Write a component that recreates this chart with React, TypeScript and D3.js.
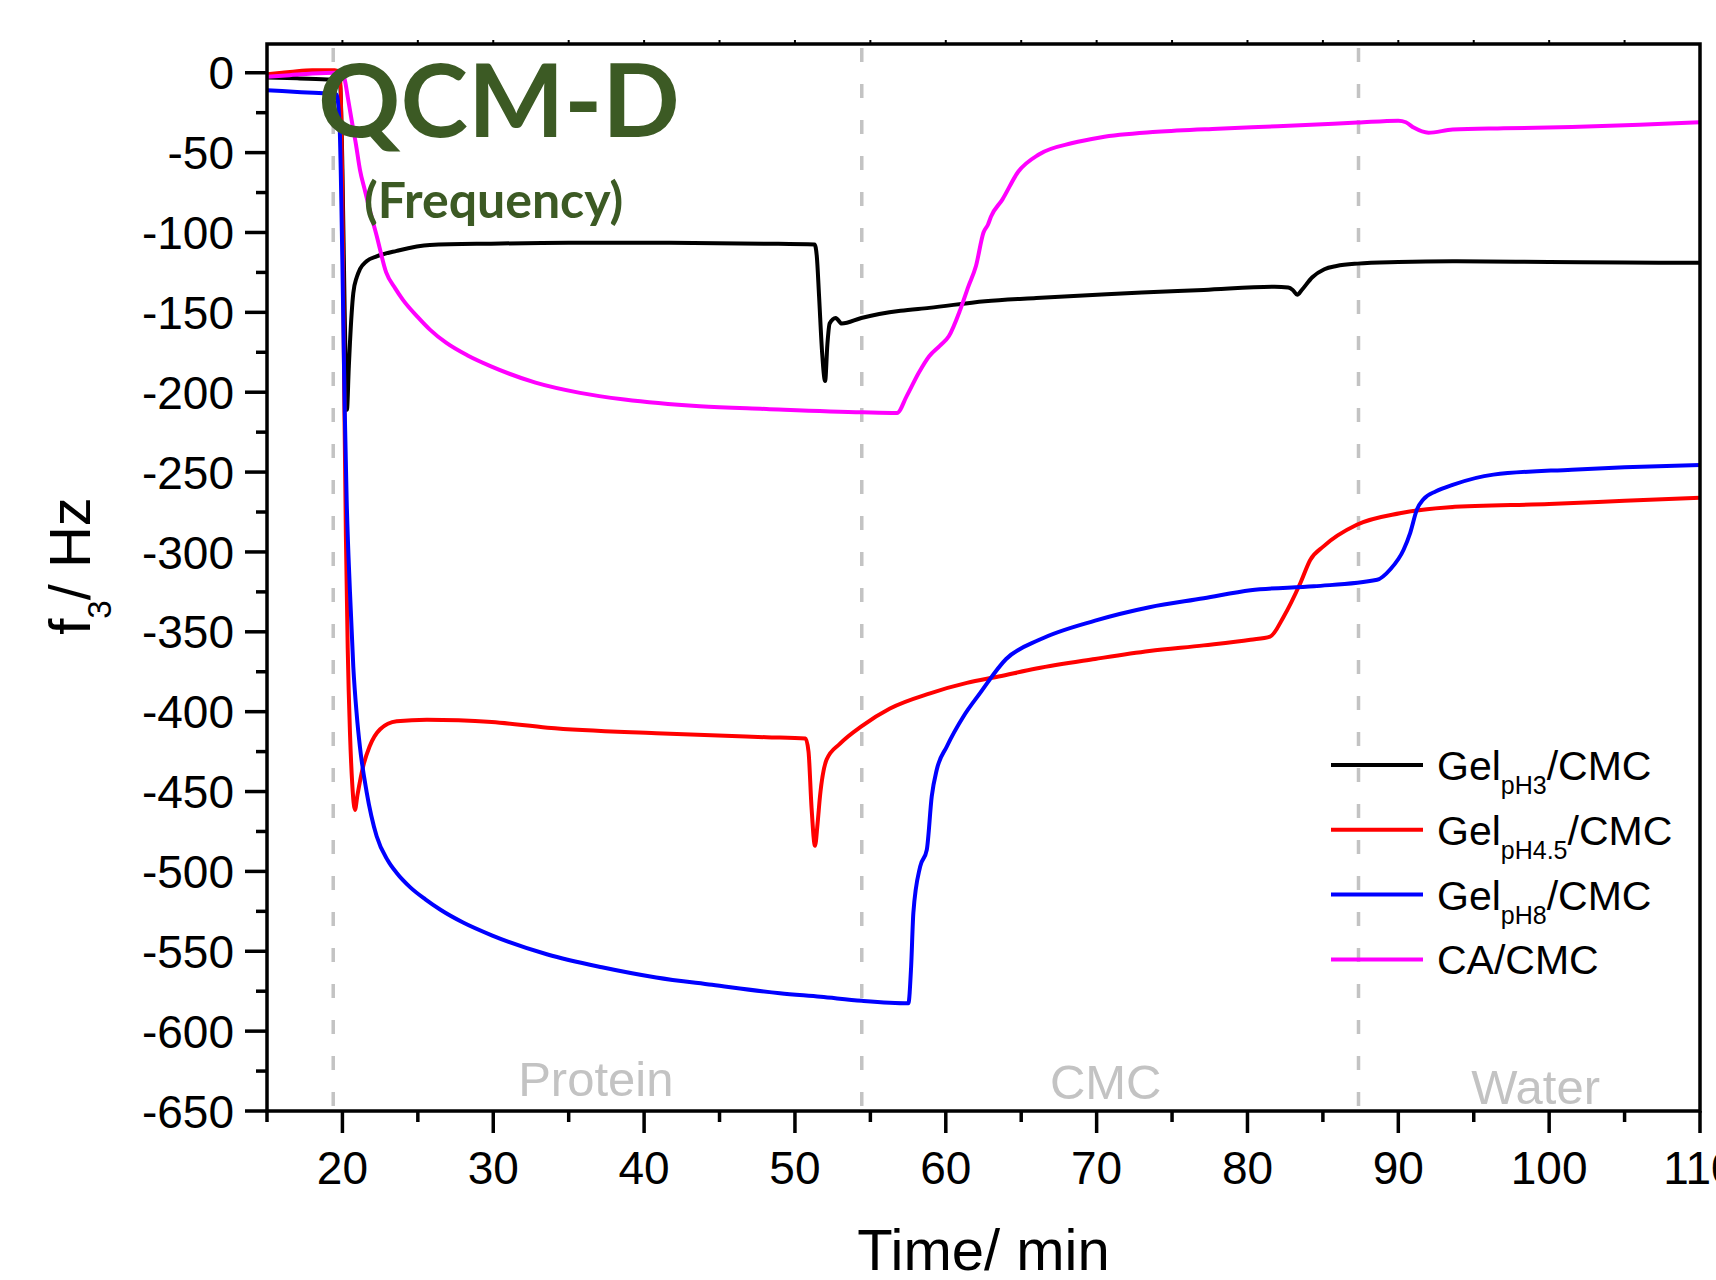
import React from "react";
import * as d3 from "d3";

type Pt = [number, number];

const gelPH3: Pt[] = [
  [15, -3], [17, -3.5], [19, -4.2], [19.6, -4.5], [19.85, -8], [20.0, -60], [20.15, -150], [20.3, -211],
  [20.42, -185], [20.5, -169], [20.72, -138], [20.95, -128], [21.16, -123], [21.6, -118], [22.27, -115],
  [23.6, -111.5], [25.8, -107.8], [29.85, -107], [35, -106.5], [41.7, -106.5], [48, -107], [51.3, -107.5],
  [51.45, -115], [51.6, -140], [51.8, -175], [52.0, -193], [52.15, -170], [52.3, -157], [52.7, -153.5],
  [53.1, -157], [54.4, -153.5], [57, -149], [58.9, -147.2], [62.6, -143], [66, -141], [69.1, -139.5],
  [73, -137.5], [77.1, -136], [81.8, -134], [82.7, -134.5], [83.0, -136], [83.3, -139], [83.6, -136],
  [84.3, -128], [85.1, -123], [85.9, -121], [87.3, -119.5], [90, -118.5], [93.6, -118], [100, -118.5],
  [105, -118.8], [110, -119],
];

const gelPH45: Pt[] = [
  [15, -1], [16, 0], [17, 1], [18, 1.5], [19.5, 1.5], [19.85, 0], [20.0, -80], [20.12, -200], [20.23, -290],
  [20.35, -360], [20.5, -413], [20.65, -445], [20.83, -461.5], [21.0, -452], [21.38, -434], [21.8, -421.8],
  [22.5, -411], [23.6, -406], [25.6, -405], [29.9, -406.5], [33.6, -410], [40.8, -413.5], [48.1, -416],
  [50.7, -416.8], [50.9, -425], [51.1, -460], [51.33, -484], [51.5, -470], [51.66, -453], [52.1, -430],
  [52.99, -420], [54.43, -409], [56.3, -398], [58.96, -388.5], [61.4, -382], [63.5, -378], [66, -373],
  [69.9, -367], [73.5, -362], [77.1, -358.5], [80.2, -355], [81.5, -353], [82.4, -340.5], [83.5, -319.6],
  [84.16, -305], [85.04, -296.5], [87.25, -283], [90.1, -275.8], [93.4, -272], [100, -270], [105, -268],
  [110, -266],
];

const gelPH8: Pt[] = [
  [15, -11], [17, -12], [19, -13], [19.6, -13.5], [19.8, -30], [20.0, -120], [20.15, -210], [20.28, -267],
  [20.5, -325], [20.72, -371.7], [20.95, -402], [21.16, -422], [21.6, -450], [22.27, -478], [23.0, -493],
  [23.6, -501], [24.5, -510], [25.5, -517.5], [26.5, -524], [28, -532], [29.9, -540], [33.6, -552],
  [37.2, -560], [40.8, -566.4], [44.5, -571], [49.0, -576.3], [51.7, -578.5], [54.43, -581], [57.52, -582.5],
  [57.7, -560], [57.85, -526], [58.3, -497], [58.74, -486.5], [59.07, -453], [59.4, -436.4], [60.07, -421.8],
  [61.17, -403], [62.27, -388.4], [64.0, -367], [66.2, -355], [69.9, -343], [73.5, -334.6], [77.1, -329],
  [80.2, -324], [84.4, -321.5], [88.6, -317.4], [89.46, -311], [90.35, -298.6], [90.79, -288],
  [91.23, -273.5], [91.67, -267], [92.5, -262], [93.6, -258], [96.3, -251.6], [101.5, -248.5], [105, -247],
  [110, -245.6],
];

const caCMC: Pt[] = [
  [15, -2.5], [16.5, -1.5], [18, -0.5], [19.5, 0], [20.05, -1], [20.17, -5], [20.35, -15], [20.6, -29],
  [20.9, -45], [21.16, -60.6], [21.5, -74], [21.8, -85.6], [22.27, -102], [22.9, -125], [23.5, -135],
  [24.0, -142], [25.0, -153], [25.8, -160.8], [26.87, -169], [28.3, -177], [29.85, -183.8], [32.8, -194],
  [35.75, -200.4], [38.7, -204.6], [43.7, -208.8], [48.1, -210.5], [54.5, -212.6], [56.77, -213],
  [57.4, -202.6], [58.2, -188], [58.9, -177.5], [59.6, -171], [60.2, -165], [60.96, -148.3], [61.5, -133.7],
  [62.0, -121], [62.5, -100], [62.8, -95], [63.0, -90], [63.75, -79.4], [64.8, -62], [66.2, -51],
  [68.4, -44], [70.24, -40.5], [74, -37], [78.04, -35], [82, -33.5], [87.3, -31.2], [90.0, -30],
  [90.5, -31], [91.05, -34.5], [92.0, -37.5], [93.6, -35.6], [97, -34.8], [101.5, -34], [106, -32.5],
  [110, -31],
];

const seriesNames = ["GelpH3", "GelpH4.5", "GelpH8", "CA"];
const seriesData = [gelPH3, gelPH45, gelPH8, caCMC];
const seriesColors = ["#000000", "#ff0000", "#0000ff", "#ff00ff"];
const legendMain = ["Gel", "Gel", "Gel", "CA/CMC"];
const legendSub = ["pH3", "pH4.5", "pH8", ""];
const legendTail = ["/CMC", "/CMC", "/CMC", ""];

const xMajorTicks = [20, 30, 40, 50, 60, 70, 80, 90, 100, 110];
const xMinorTicks = [15, 25, 35, 45, 55, 65, 75, 85, 95, 105];
const yMajorTicks = d3.range(0, -651, -50);
const yMinorTicks = d3.range(-25, -650, -50);
const phaseLines = [19.39, 54.43, 87.36];
const phaseLabels = [
  { text: "Protein", t: 36.8, dy: 0 },
  { text: "CMC", t: 70.6, dy: 3 },
  { text: "Water", t: 99.1, dy: 8 },
];

const W = 1716;
const H = 1280;
const L = 267, R = 1700, T = 44, B = 1111;
const FONT = "'Liberation Sans', Arial, sans-serif";

export default function App() {
  const x = d3.scaleLinear().domain([15, 110]).range([L, R]);
  const y = d3.scaleLinear().domain([-650, 18]).range([B, T]);
  const line = d3
    .line<Pt>()
    .x((d) => x(d[0]))
    .y((d) => y(d[1]))
    .curve(d3.curveMonotoneX);

  const topTicks = d3.range(20, 110, 5);

  return (
    <svg
      width={W}
      height={H}
      viewBox={`0 0 ${W} ${H}`}
      style={{ position: "absolute", left: 0, top: 0, background: "#fff" }}
    >
      <defs>
        <clipPath id="plotclip">
          <rect x={L} y={T} width={R - L} height={B - T} />
        </clipPath>
      </defs>
      <rect x={0} y={0} width={W} height={H} fill="#fff" />

      {phaseLines.map((t, i) => (
        <line
          key={"pl" + i}
          x1={x(t)}
          x2={x(t)}
          y1={T + 4}
          y2={B - 4}
          stroke="#c3c3c3"
          strokeWidth={3.5}
          strokeDasharray="14 22"
        />
      ))}
      {phaseLabels.map((p, i) => (
        <text
          key={"lab" + i}
          x={x(p.t)}
          y={1096 + p.dy}
          fill="#c3c3c3"
          fontFamily={FONT}
          fontSize={49}
          textAnchor="middle"
        >
          {p.text}
        </text>
      ))}

      <g clipPath="url(#plotclip)">
        {seriesData.map((d, i) => (
          <path
            key={seriesNames[i]}
            d={line(d) || ""}
            fill="none"
            stroke={seriesColors[i]}
            strokeWidth={4}
            strokeLinejoin="round"
          />
        ))}
      </g>

      <rect x={L} y={T} width={R - L} height={B - T} fill="none" stroke="#000" strokeWidth={3.5} />

      {topTicks.map((t) => (
        <line key={"tt" + t} x1={x(t)} x2={x(t)} y1={T} y2={T - 4} stroke="#000" strokeWidth={2} />
      ))}

      {yMajorTicks.map((v) => (
        <g key={"ym" + v}>
          <line x1={L - 22} x2={L} y1={y(v)} y2={y(v)} stroke="#000" strokeWidth={3.5} />
          <text
            x={L - 33}
            y={y(v)}
            dy="0.36em"
            textAnchor="end"
            fontFamily={FONT}
            fontSize={46}
            fill="#000"
          >
            {v}
          </text>
        </g>
      ))}
      {yMinorTicks.map((v) => (
        <line key={"yn" + v} x1={L - 11} x2={L} y1={y(v)} y2={y(v)} stroke="#000" strokeWidth={3.5} />
      ))}

      {xMajorTicks.map((v) => (
        <g key={"xm" + v}>
          <line x1={x(v)} x2={x(v)} y1={B} y2={B + 22} stroke="#000" strokeWidth={3.5} />
          <text x={x(v)} y={1184} textAnchor="middle" fontFamily={FONT} fontSize={46} fill="#000">
            {v}
          </text>
        </g>
      ))}
      {xMinorTicks.map((v) => (
        <line key={"xn" + v} x1={x(v)} x2={x(v)} y1={B} y2={B + 11} stroke="#000" strokeWidth={3.5} />
      ))}

      <text x={(L + R) / 2} y={1270} textAnchor="middle" fontFamily={FONT} fontSize={58} fill="#000">
        Time/ min
      </text>
      <text
        transform={`translate(90, 566) rotate(-90)`}
        textAnchor="middle"
        fontFamily={FONT}
        fontSize={58}
        fill="#000"
      >
        <tspan>f</tspan>
        <tspan fontSize={33} dy={21}>3</tspan>
        <tspan dy={-21}>/ Hz</tspan>
      </text>

      <text x={318} y={137} fontFamily="Lato, 'Noto Sans', sans-serif" fontWeight={700} fontSize={102} fill="#3c5a24">
        QCM-D
      </text>
      <text x={364} y={218} fontFamily="Lato, 'Noto Sans', sans-serif" fontWeight={700} fontSize={50} fill="#3c5a24">
        (Frequency)
      </text>

      {seriesNames.map((n, i) => {
        const ly = 765 + i * 64.8;
        return (
          <g key={"lg" + n}>
            <line x1={1331} x2={1423} y1={ly} y2={ly} stroke={seriesColors[i]} strokeWidth={4} />
            <text x={1437} y={ly + 15} fontFamily={FONT} fontSize={41} fill="#000">
              <tspan>{legendMain[i]}</tspan>
              {legendSub[i] ? (
                <tspan fontSize={25} dy={14}>{legendSub[i]}</tspan>
              ) : null}
              {legendTail[i] ? <tspan dy={-14}>{legendTail[i]}</tspan> : null}
            </text>
          </g>
        );
      })}
    </svg>
  );
}
